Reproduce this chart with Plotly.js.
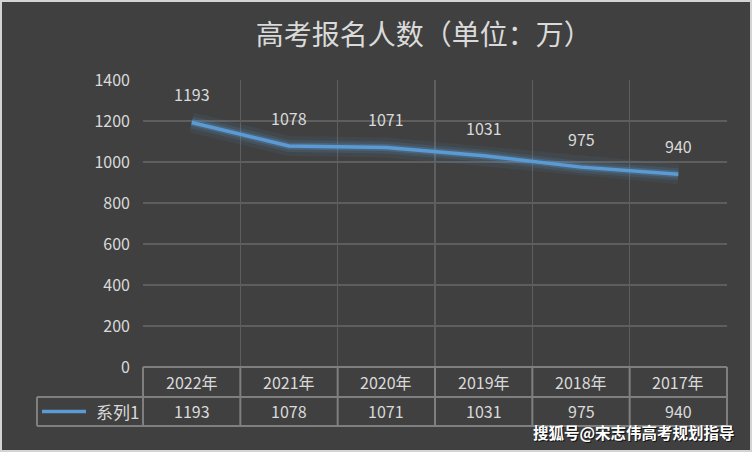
<!DOCTYPE html>
<html><head><meta charset="utf-8">
<script src="https://cdn.plot.ly/plotly-3.0.1.min.js"></script>
<style>
html,body{margin:0;padding:0;background:#d4d4d4;}
#chart{width:748px;height:448px;border:2px solid #d4d4d4;}
</style></head>
<body><div id="chart"></div>
<script>
const categories = ["2022年","2021年","2020年","2019年","2018年","2017年"];
const values = [1193,1078,1071,1031,975,940];
const seriesName = "系列1";
const yTicks = [0,200,400,600,800,1000,1200,1400];

const txt = "#dadada";
const font = "'Noto Sans CJK SC', 'Noto Sans', sans-serif";

const traces = [
  {x:categories,y:values,mode:"lines",line:{color:"rgba(91,155,213,0.08)",width:20},hoverinfo:"skip",showlegend:false},
  {x:categories,y:values,mode:"lines",line:{color:"rgba(91,155,213,0.14)",width:12},hoverinfo:"skip",showlegend:false},
  {x:categories,y:values,mode:"lines",line:{color:"rgba(91,155,213,0.25)",width:7},hoverinfo:"skip",showlegend:false},
  {x:categories,y:values,mode:"lines",line:{color:"#5b9bd5",width:3.5},name:seriesName,showlegend:false}
];

const ann = [];
values.forEach((v,i)=>{
  ann.push({x:categories[i],y:v,xref:"x",yref:"y",text:String(v),showarrow:false,yshift:28,font:{family:font,size:16,color:txt}});
});
categories.forEach((c,i)=>{
  ann.push({x:c,xref:"x",y:-0.052,yref:"paper",text:c,showarrow:false,yanchor:"middle",font:{family:font,size:16,color:txt}});
  ann.push({x:c,xref:"x",y:-0.155,yref:"paper",text:String(values[i]),showarrow:false,yanchor:"middle",font:{family:font,size:16,color:txt}});
});
ann.push({x:-0.003,xref:"paper",y:-0.155,yref:"paper",text:seriesName,showarrow:false,xanchor:"right",yanchor:"middle",font:{family:font,size:17,color:txt}});
// watermark
ann.push({x:1.0,xref:"paper",y:-0.228,yref:"paper",xanchor:"right",yanchor:"middle",text:"<b>搜狐号@宋志伟高考规划指导</b>",showarrow:false,font:{family:font,size:15.5,color:"#111"},xshift:11,yshift:-1});
ann.push({x:1.0,xref:"paper",y:-0.228,yref:"paper",xanchor:"right",yanchor:"middle",text:"<b>搜狐号@宋志伟高考规划指导</b>",showarrow:false,font:{family:font,size:15.5,color:"#ffffff"},xshift:10});

const lc = "#7f7f7f";
const shapes = [];
const xl = -106/584;
const yB1 = -30/287, yB2 = -59/287;
shapes.push({type:"line",xref:"paper",yref:"paper",x0:0,x1:1,y0:0,y1:0,line:{color:lc,width:2}});
shapes.push({type:"line",xref:"paper",yref:"paper",x0:xl,x1:1,y0:yB1,y1:yB1,line:{color:lc,width:2}});
shapes.push({type:"line",xref:"paper",yref:"paper",x0:xl,x1:1,y0:yB2,y1:yB2,line:{color:lc,width:2}});
for(let k=0;k<=6;k++){
  shapes.push({type:"line",xref:"paper",yref:"paper",x0:k/6,x1:k/6,y0:0,y1:yB2,line:{color:lc,width:2}});
}
shapes.push({type:"line",xref:"paper",yref:"paper",x0:xl,x1:xl,y0:yB1,y1:yB2,line:{color:lc,width:2}});
shapes.push({type:"line",xref:"paper",yref:"paper",x0:-101/584,x1:-57/584,y0:-44.5/287,y1:-44.5/287,line:{color:"#5b9bd5",width:3.5}});

const layout = {
  width:748,height:448,
  paper_bgcolor:"#404040",plot_bgcolor:"#404040",
  margin:{l:141,r:23,t:78,b:83},
  title:{text:"高考报名人数（单位：万）",x:0.564,xanchor:"center",y:0.925,yanchor:"middle",font:{family:"'Noto Sans CJK SC', serif",size:28,color:txt}},
  xaxis:{type:"category",range:[-0.5,5.5],showticklabels:false,showgrid:true,tickson:"boundaries",gridcolor:"#5e5e5e",gridwidth:1.5,ticks:"",zeroline:false,showline:false,fixedrange:true},
  yaxis:{range:[0,1400],tickvals:yTicks,ticktext:yTicks.map(String),showgrid:true,gridcolor:"#5e5e5e",gridwidth:1.5,zeroline:false,showline:false,ticks:"",ticklabelstandoff:12,tickfont:{family:font,size:16,color:txt},fixedrange:true},
  showlegend:false,
  annotations:ann,
  shapes:shapes
};
Plotly.newPlot("chart",traces,layout,{displayModeBar:false,staticPlot:true});
</script></body></html>
